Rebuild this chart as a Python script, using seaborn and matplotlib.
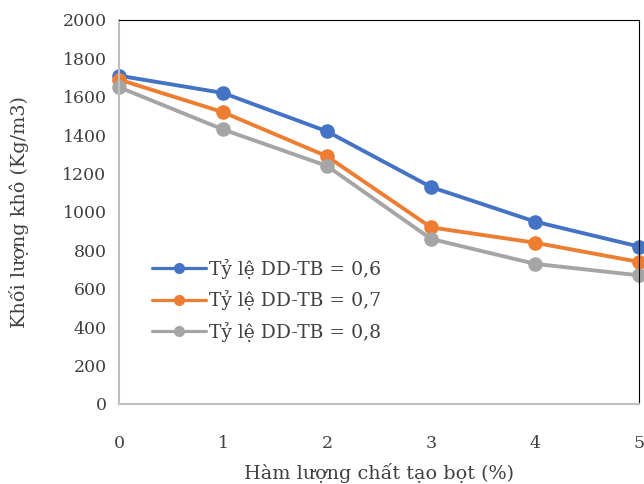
import matplotlib
matplotlib.use("Agg")
import matplotlib.pyplot as plt
import seaborn as sns
import pandas as pd

x_vals = [0, 1, 2, 3, 4, 5]
s06 = [1710, 1620, 1420, 1130, 950, 820]
s07 = [1690, 1520, 1290, 920, 840, 740]
s08 = [1650, 1430, 1240, 860, 730, 670]
labels = ["Tỷ lệ DD-TB = 0,6", "Tỷ lệ DD-TB = 0,7", "Tỷ lệ DD-TB = 0,8"]
colors = ["#4472C4", "#ED7D31", "#A5A5A5"]

rows = []
for lab, ys in zip(labels, [s06, s07, s08]):
    for xv, yv in zip(x_vals, ys):
        rows.append({"x": xv, "y": yv, "series": lab})
df = pd.DataFrame(rows)

sns.set_style("white")
plt.rcParams['font.family'] = ['DejaVu Serif']

fig = plt.figure(figsize=(6.44, 4.84), dpi=100)
ax = fig.add_axes([119/644, 1 - 404/484, 520/644, 384/484])
sns.lineplot(data=df, x="x", y="y", hue="series", palette=colors, marker="o",
             markersize=10.5, markeredgewidth=0, linewidth=2.8, ax=ax, clip_on=False)

ax.set_xlim(0, 5)
ax.set_ylim(0, 2000)
ax.set_xticks(x_vals)
ax.set_yticks(range(0, 2001, 200))
ax.tick_params(axis='both', direction='in', length=7, color='#BFBFBF', width=1.2,
               labelsize=12.5, labelcolor='#404040')
ax.tick_params(axis='x', pad=22)
ax.tick_params(axis='y', pad=9)
for s in ['left', 'bottom']:
    ax.spines[s].set_color('#BFBFBF')
    ax.spines[s].set_linewidth(1.5)
for s in ['top', 'right']:
    ax.spines[s].set_color('black')
    ax.spines[s].set_linewidth(0.8)
ax.set_xlabel("Hàm lượng chất tạo bọt (%)", fontsize=13.8, color='#404040', labelpad=8)
ax.set_ylabel("Khối lượng khô (Kg/m3)", fontsize=13.8, color='#404040', labelpad=24)

leg = ax.legend(loc='center left', bbox_to_anchor=(0.063, 0.27), frameon=False,
                fontsize=13.5, handlelength=2.9, handletextpad=0.15, labelspacing=0.62,
                borderaxespad=0, borderpad=0)
for t in leg.get_texts():
    t.set_color('#404040')
for h in leg.get_lines():
    h.set_linewidth(2.3)
    h.set_markersize(8)

fig.savefig("out.png", dpi=100)
